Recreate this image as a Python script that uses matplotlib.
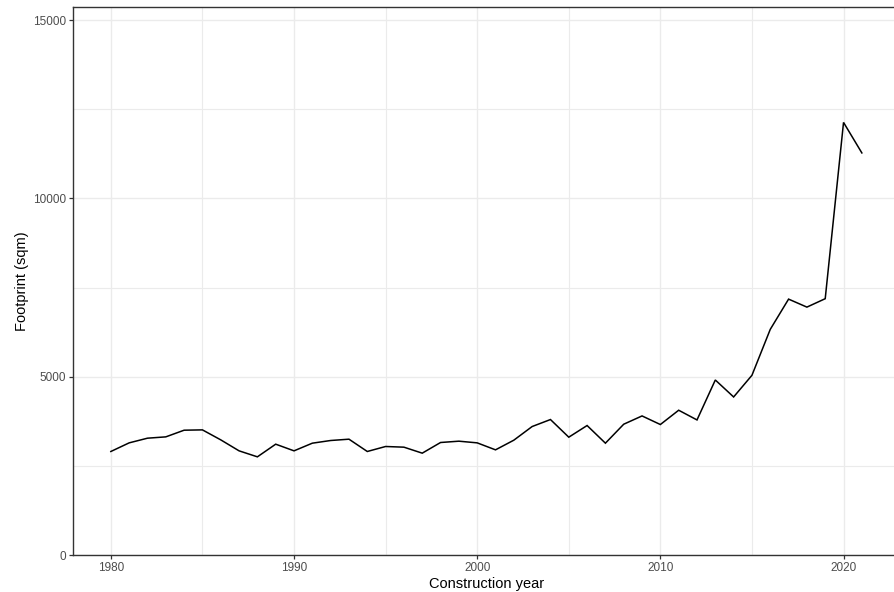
import matplotlib
matplotlib.use("Agg")
import matplotlib.pyplot as plt
from matplotlib.ticker import MultipleLocator

years = list(range(1980, 2022))
footprint = [
    2903, 3145, 3276, 3313, 3500, 3509, 3229, 2921, 2753, 3108,
    2921, 3136, 3211, 3248, 2903, 3043, 3024, 2856, 3155, 3192,
    3145, 2949, 3220, 3603, 3799, 3304, 3631, 3136, 3668, 3900,
    3659, 4060, 3788, 4908, 4432, 5040, 6328, 7176, 6952, 7188,
    12132, 11276,
]
x_ticks = [1980, 1990, 2000, 2010, 2020]
y_ticks = [0, 5000, 10000, 15000]

plt.rcParams["font.family"] = ["Liberation Sans", "DejaVu Sans"]

W, H = 895, 592
fig = plt.figure(figsize=(W / 100, H / 100), dpi=100)
left, right, top, bottom = 73.3, 899.4, 7.3, 555.0
ax = fig.add_axes([left / W, (H - bottom) / H, (right - left) / W, (bottom - top) / H])

ax.plot(years, footprint, color="black", lw=1.1, solid_joinstyle="miter", zorder=3)

ax.set_xlim(1977.95, 2023.05)
ax.set_ylim(0, 15360)
ax.set_xticks(x_ticks)
ax.set_yticks(y_ticks)
ax.xaxis.set_minor_locator(MultipleLocator(5))
ax.yaxis.set_minor_locator(MultipleLocator(2500))

ax.grid(which="major", color="#EBEBEB", lw=1.0, zorder=0)
ax.grid(which="minor", color="#EBEBEB", lw=0.8, zorder=0)
ax.set_axisbelow(True)

for side in ["left", "bottom", "top", "right"]:
    ax.spines[side].set_color("#333333")
    ax.spines[side].set_linewidth(1.0)

ax.tick_params(which="major", direction="out", length=2.75, width=0.9,
               color="#333333", labelcolor="#4D4D4D", labelsize=8.5, pad=2.6)
ax.tick_params(which="minor", length=0)

ax.set_xlabel("Construction year", fontsize=10.5, color="black", labelpad=2)
ax.set_ylabel("Footprint (sqm)", fontsize=10.5, color="black", labelpad=3)

fig.savefig("out.png", dpi=100)
